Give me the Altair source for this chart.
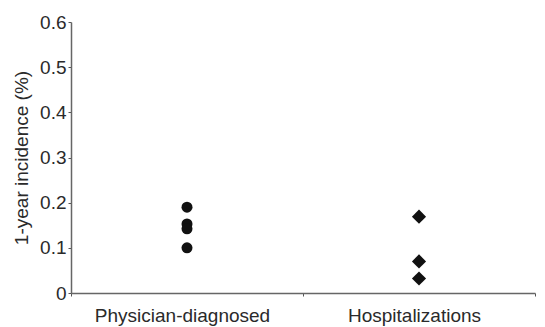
import altair as alt
import pandas as pd

categories = ["Physician-diagnosed"] * 4 + ["Hospitalizations"] * 3
values = [0.19, 0.153, 0.142, 0.10, 0.169, 0.07, 0.032]
order = ["Physician-diagnosed", "Hospitalizations"]
y_ticks = [0, 0.1, 0.2, 0.3, 0.4, 0.5, 0.6]

df = pd.DataFrame({"type": categories, "incidence": values})

FONT = "Liberation Sans"

chart = alt.Chart(df).mark_point(filled=True, opacity=1).encode(
    x=alt.X("type:N", sort=order, title=None,
            scale=alt.Scale(domain=order, paddingInner=0, paddingOuter=0),
            axis=alt.Axis(labelAngle=0, labelFontSize=19, labelColor="#2a2a2a",
                          labelFont=FONT, labelPadding=10, labelOffset=-5,
                          tickBand="extent",
                          tickSize=3, tickColor="#555", domainColor="#666",
                          domainWidth=1.5, grid=False)),
    y=alt.Y("incidence:Q", title="1-year incidence (%)",
            scale=alt.Scale(domain=[0, 0.6], nice=False),
            axis=alt.Axis(values=y_ticks, format=".1~f", labelFontSize=19,
                          labelColor="#2a2a2a", labelFont=FONT, labelPadding=2,
                          tickSize=3, tickColor="#555", domainColor="#666",
                          domainWidth=1.5, titleFontSize=19, titleFont=FONT,
                          titleColor="#2a2a2a", titleFontWeight="normal",
                          titlePadding=8, grid=False)),
    shape=alt.Shape("type:N", scale=alt.Scale(domain=order, range=["circle", "diamond"]),
                    legend=None),
    size=alt.Size("type:N", scale=alt.Scale(domain=order, range=[121, 200]), legend=None),
    color=alt.value("#111"),
).properties(
    width=464, height=271,
    autosize=alt.AutoSizeParams(type="none"),
    padding={"left": 63, "top": 14, "right": 2, "bottom": 34},
).configure_view(stroke=None)

chart.save("out.html", embed_options={"renderer": "svg", "actions": False})
